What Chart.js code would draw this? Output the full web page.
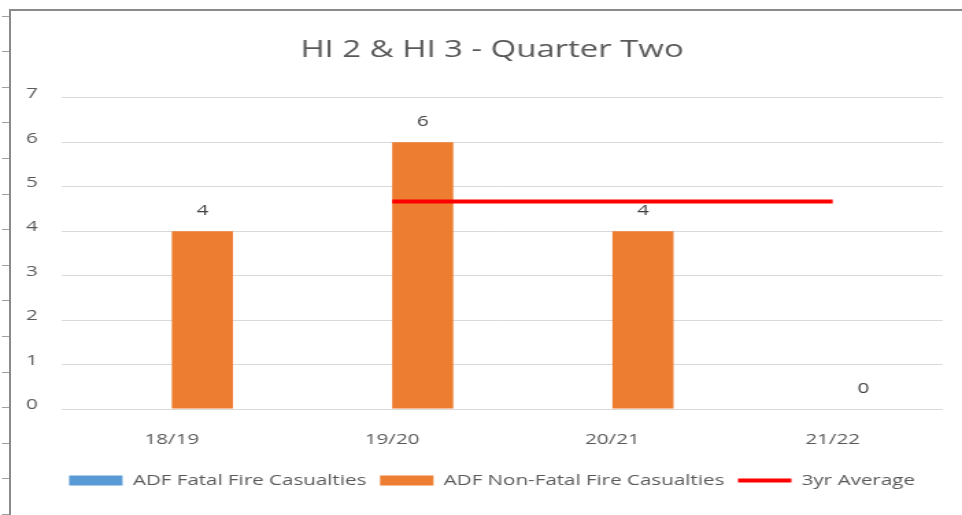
<!DOCTYPE html>
<html>
<head>
<meta charset="utf-8">
<script src="https://cdn.jsdelivr.net/npm/chart.js@4"></script>
<style>
  html, body { margin: 0; padding: 0; background: #fff; }
  #wrap { position: relative; width: 962px; height: 515px; overflow: hidden; }
  #frame { position: absolute; left: 9px; top: 9px; right: -5px; bottom: -5px; border-left: 2px solid #8a8a8a; border-top: 2px solid #8a8a8a; }
  #ticks { position: absolute; left: 2px; top: 0; width: 8px; height: 515px;
    background: repeating-linear-gradient(to bottom, transparent 0, transparent 15.6px, #a0a0a0 15.6px, #a0a0a0 16.6px, transparent 16.6px, transparent 35.6px);
  }
  /* the source picture is stretched sideways, so the chart is drawn narrower and widened */
  #stretch { position: absolute; left: 0; top: 0; width: 702px; height: 515px; transform: scaleX(1.3704); transform-origin: 0 0; }
</style>
</head>
<body>
<div id="wrap">
  <div id="ticks"></div>
  <div id="frame"></div>
  <div id="stretch"><canvas id="resultChart" width="702" height="515"></canvas></div>
</div>
<script>
var categories = ["18/19", "19/20", "20/21", "21/22"];
var fatalValues = [0, 0, 0, 0];
var nonFatalValues = [4, 6, 4, 0];
var averageValues = [null, 4.67, 4.67, 4.67];
var yTicks = [0, 1, 2, 3, 4, 5, 6, 7];

var textGrey = "#595959";
var fontName = "'Open Sans', sans-serif";

// value labels above the orange bars
var barLabels = {
    id: "barLabels",
    afterDatasetsDraw: function (chart) {
        var ctx = chart.ctx;
        var meta = chart.getDatasetMeta(1);
        ctx.save();
        ctx.fillStyle = "#404040";
        ctx.font = "15px " + fontName;
        ctx.textAlign = "center";
        ctx.textBaseline = "bottom";
        meta.data.forEach(function (bar, i) {
            ctx.fillText(String(nonFatalValues[i]), bar.x, bar.y - 13);
        });
        ctx.restore();
    }
};

var ctx = document.getElementById("resultChart").getContext("2d");
var myChart = new Chart(ctx, {
    type: "bar",
    data: {
        labels: categories,
        datasets: [
            {
                label: "ADF Fatal Fire Casualties",
                data: fatalValues,
                backgroundColor: "#5b9bd5",
                pointStyle: "rect",
                order: 2
            },
            {
                label: "ADF Non-Fatal Fire Casualties",
                data: nonFatalValues,
                backgroundColor: "#ed7d31",
                pointStyle: "rect",
                order: 2
            },
            {
                type: "line",
                label: "3yr Average",
                data: averageValues,
                borderColor: "#ff0000",
                backgroundColor: "#ff0000",
                borderWidth: 4,
                pointRadius: 0,
                pointStyle: "line",
                fill: false,
                order: 1
            }
        ]
    },
    options: {
        responsive: false,
        animation: false,
        categoryPercentage: 0.555,
        barPercentage: 1,
        layout: { padding: { left: 30, right: 14, top: 12, bottom: 17 } },
        plugins: {
            title: {
                display: true,
                text: "HI 2 & HI 3 - Quarter Two",
                color: textGrey,
                font: { family: fontName, size: 24, weight: "normal" },
                padding: { top: 24, bottom: 33 }
            },
            legend: {
                position: "bottom",
                labels: {
                    color: textGrey,
                    font: { family: fontName, size: 15 },
                    usePointStyle: true,
                    pointStyleWidth: 39,
                    boxHeight: 10,
                    padding: 10,
                    sort: function (a, b) { return a.datasetIndex - b.datasetIndex; }
                }
            },
            tooltip: { enabled: false }
        },
        scales: {
            x: {
                grid: { display: false },
                border: { display: false },
                ticks: { color: textGrey, font: { family: fontName, size: 15 }, padding: 14 }
            },
            y: {
                min: 0,
                max: 7,
                afterBuildTicks: function (axis) {
                    axis.ticks = yTicks.map(function (v) { return { value: v }; });
                },
                afterFit: function (axis) { axis.width = 15; },
                grid: { color: "#d9d9d9", drawTicks: false },
                border: { display: false },
                ticks: { color: textGrey, font: { family: fontName, size: 15 }, mirror: true, padding: -26, labelOffset: -4 }
            }
        }
    },
    plugins: [barLabels]
});
</script>
</body>
</html>
